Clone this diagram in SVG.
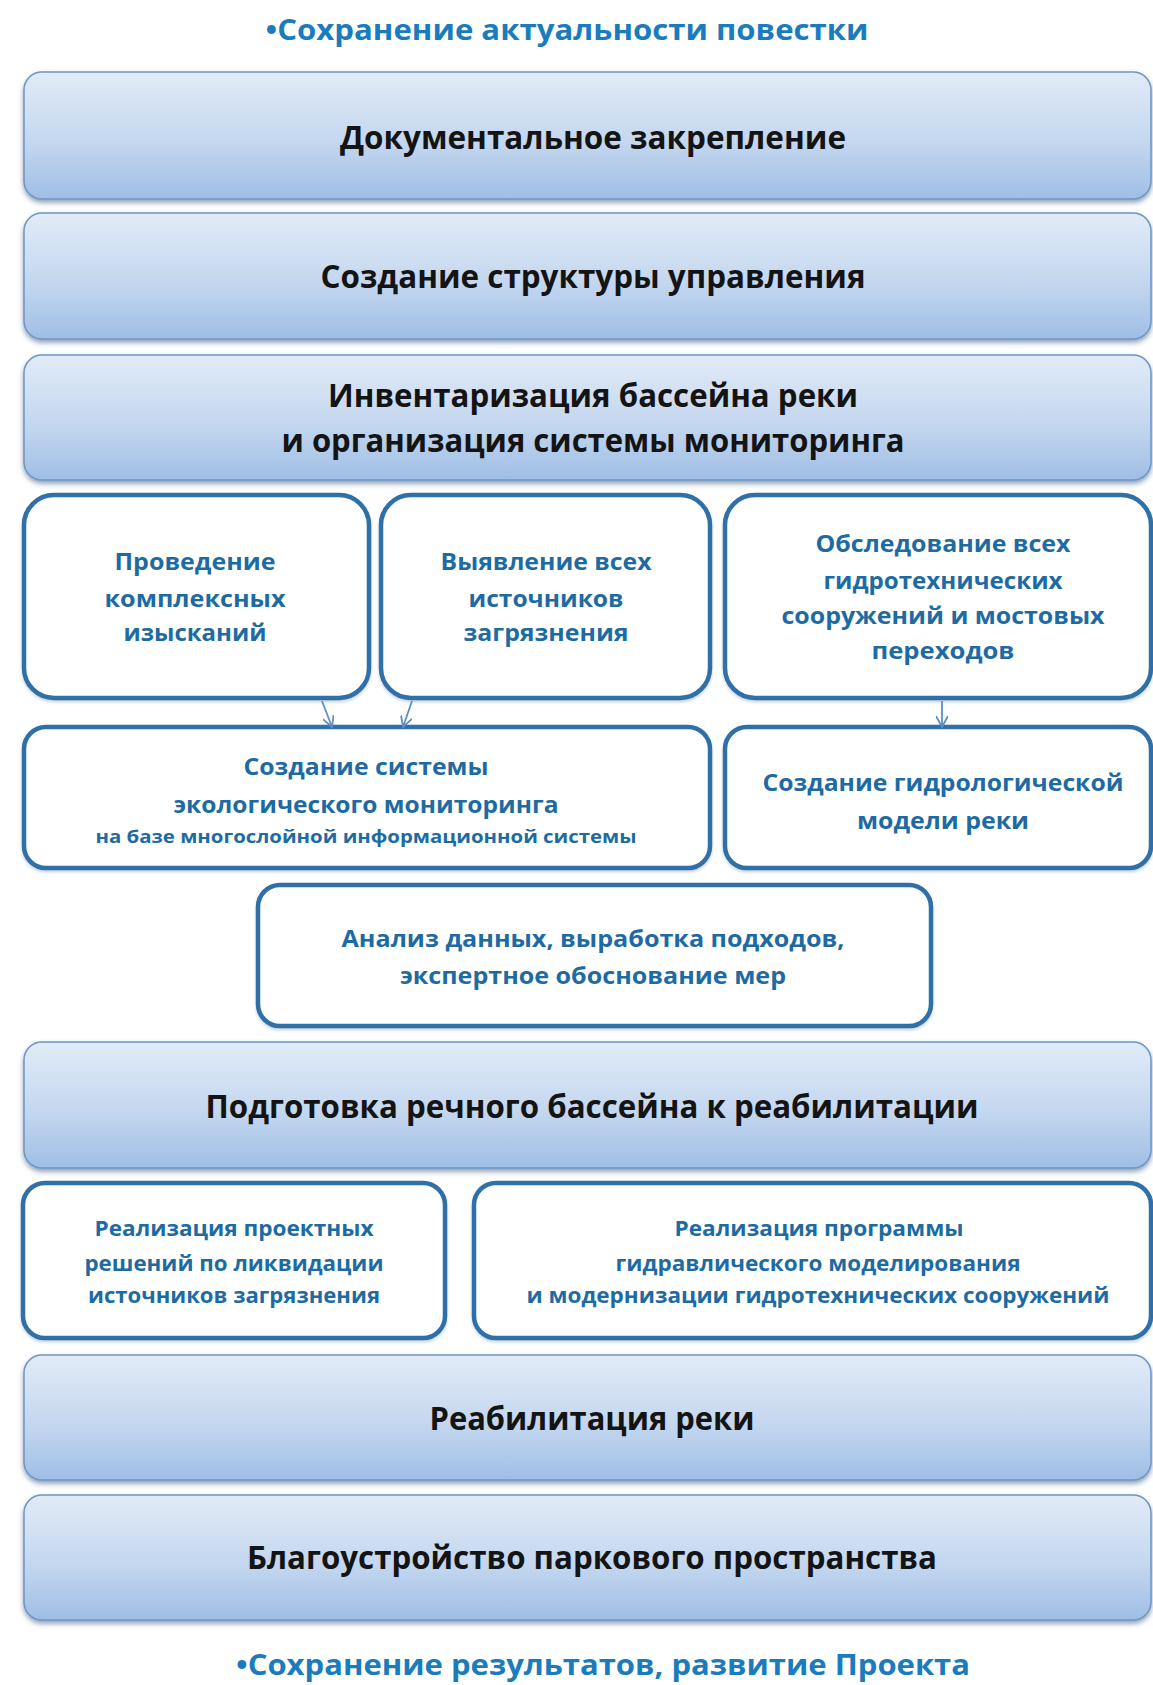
<svg xmlns="http://www.w3.org/2000/svg" width="1153" height="1685" viewBox="0 0 1153 1685">
<defs>
<linearGradient id="bg" x1="0" y1="0" x2="0" y2="1">
<stop offset="0" stop-color="#e2ebf7"/>
<stop offset="0.55" stop-color="#c4d7ef"/>
<stop offset="1" stop-color="#9fbee5"/>
</linearGradient>
<filter id="sh" x="-5%" y="-10%" width="110%" height="130%">
<feDropShadow dx="0" dy="3" stdDeviation="2.5" flood-color="#2f5784" flood-opacity="0.55"/>
</filter>
<filter id="sh2" x="-5%" y="-10%" width="110%" height="130%">
<feDropShadow dx="0" dy="2" stdDeviation="1.5" flood-color="#6f8fb0" flood-opacity="0.4"/>
</filter>
<marker id="ah" viewBox="0 0 12 12" refX="11" refY="6" markerWidth="12" markerHeight="12" markerUnits="userSpaceOnUse" orient="auto">
<path d="M0,0 L11,6 L0,12" fill="none" stroke="#5f8dbf" stroke-width="1.8"/>
</marker>
</defs>
<style>
.blue{fill:url(#bg);stroke:#6f95c2;stroke-width:1.5;filter:url(#sh)}
.white{fill:#ffffff;stroke:#2f6fa7;stroke-width:4.5;filter:url(#sh2)}
.bt{font-family:"Open Sans","Liberation Sans",sans-serif;font-weight:bold;fill:#141414;font-size:32px;text-anchor:middle}
.wt{font-family:"Open Sans","Liberation Sans",sans-serif;font-weight:bold;fill:#1d6ba2;font-size:24px;text-anchor:middle}
.tt{font-family:"Open Sans","Liberation Sans",sans-serif;font-weight:bold;fill:#1a7bbd;font-size:29px;text-anchor:middle}
.conn{fill:none;stroke:#5f8dbf;stroke-width:1.8;marker-end:url(#ah)}
</style>
<rect width="1153" height="1685" fill="#ffffff"/>

<g id="title-top"><text class="tt" x="567" y="40" textLength="603" lengthAdjust="spacingAndGlyphs">•Сохранение актуальности повестки</text></g>

<g id="n-doc"><rect class="blue" x="24" y="72" width="1127" height="127" rx="18"/>
<text class="bt" x="593" y="149" textLength="506" lengthAdjust="spacingAndGlyphs">Документальное закрепление</text></g>

<g id="n-struct"><rect class="blue" x="24" y="213" width="1127" height="126" rx="18"/>
<text class="bt" x="593" y="288" textLength="545" lengthAdjust="spacingAndGlyphs">Создание структуры управления</text></g>

<g id="n-inv"><rect class="blue" x="24" y="355" width="1127" height="125" rx="18"/>
<text class="bt" x="593" y="407" textLength="530" lengthAdjust="spacingAndGlyphs">Инвентаризация бассейна реки</text>
<text class="bt" x="593" y="452" textLength="623" lengthAdjust="spacingAndGlyphs">и организация системы мониторинга</text></g>

<g id="n-surv"><rect class="white" x="24" y="495" width="345" height="203" rx="30"/>
<text class="wt" x="195" y="570" textLength="161" lengthAdjust="spacingAndGlyphs">Проведение</text>
<text class="wt" x="195" y="607" textLength="181" lengthAdjust="spacingAndGlyphs">комплексных</text>
<text class="wt" x="195" y="641" textLength="143" lengthAdjust="spacingAndGlyphs">изысканий</text></g>

<g id="n-src"><rect class="white" x="381" y="495" width="329" height="203" rx="30"/>
<text class="wt" x="546" y="570" textLength="211" lengthAdjust="spacingAndGlyphs">Выявление всех</text>
<text class="wt" x="546" y="607" textLength="155" lengthAdjust="spacingAndGlyphs">источников</text>
<text class="wt" x="546" y="641" textLength="165" lengthAdjust="spacingAndGlyphs">загрязнения</text></g>

<g id="n-hydro"><rect class="white" x="725" y="495" width="426" height="203" rx="30"/>
<text class="wt" x="943" y="552" textLength="255" lengthAdjust="spacingAndGlyphs">Обследование всех</text>
<text class="wt" x="943" y="589" textLength="239" lengthAdjust="spacingAndGlyphs">гидротехнических</text>
<text class="wt" x="943" y="624" textLength="323" lengthAdjust="spacingAndGlyphs">сооружений и мостовых</text>
<text class="wt" x="943" y="659" textLength="143" lengthAdjust="spacingAndGlyphs">переходов</text></g>

<g id="n-eco"><rect class="white" x="24" y="727" width="686" height="141" rx="22"/>
<text class="wt" x="366" y="775" textLength="245" lengthAdjust="spacingAndGlyphs">Создание системы</text>
<text class="wt" x="366" y="813" textLength="385" lengthAdjust="spacingAndGlyphs">экологического мониторинга</text>
<text class="wt" x="366" y="843" style="font-size:18px" textLength="541" lengthAdjust="spacingAndGlyphs">на базе многослойной информационной системы</text></g>

<g id="n-model"><rect class="white" x="725" y="727" width="426" height="141" rx="22"/>
<text class="wt" x="943" y="791" textLength="361" lengthAdjust="spacingAndGlyphs">Создание гидрологической</text>
<text class="wt" x="943" y="829" textLength="172" lengthAdjust="spacingAndGlyphs">модели реки</text></g>

<g id="n-anal"><rect class="white" x="258" y="885" width="673" height="141" rx="22"/>
<text class="wt" x="593" y="947" textLength="503" lengthAdjust="spacingAndGlyphs">Анализ данных, выработка подходов,</text>
<text class="wt" x="593" y="984" textLength="386" lengthAdjust="spacingAndGlyphs">экспертное обоснование мер</text></g>

<g id="n-prep"><rect class="blue" x="24" y="1042" width="1127" height="126" rx="18"/>
<text class="bt" x="592" y="1118" textLength="773" lengthAdjust="spacingAndGlyphs">Подготовка речного бассейна к реабилитации</text></g>

<g id="n-proj"><rect class="white" x="23" y="1183" width="422" height="155" rx="22"/>
<text class="wt" x="234" y="1236" style="font-size:22px" textLength="279" lengthAdjust="spacingAndGlyphs">Реализация проектных</text>
<text class="wt" x="234" y="1271" style="font-size:22px" textLength="299" lengthAdjust="spacingAndGlyphs">решений по ликвидации</text>
<text class="wt" x="234" y="1303" style="font-size:22px" textLength="292" lengthAdjust="spacingAndGlyphs">источников загрязнения</text></g>

<g id="n-prog"><rect class="white" x="474" y="1183" width="677" height="155" rx="22"/>
<text class="wt" x="819" y="1236" style="font-size:22px" textLength="289" lengthAdjust="spacingAndGlyphs">Реализация программы</text>
<text class="wt" x="818" y="1271" style="font-size:22px" textLength="405" lengthAdjust="spacingAndGlyphs">гидравлического моделирования</text>
<text class="wt" x="818" y="1303" style="font-size:22px" textLength="583" lengthAdjust="spacingAndGlyphs">и модернизации гидротехнических сооружений</text></g>

<g id="n-rehab"><rect class="blue" x="24" y="1355" width="1127" height="125" rx="18"/>
<text class="bt" x="592" y="1430" textLength="325" lengthAdjust="spacingAndGlyphs">Реабилитация реки</text></g>

<g id="n-park"><rect class="blue" x="24" y="1495" width="1127" height="125" rx="18"/>
<text class="bt" x="592" y="1569" textLength="690" lengthAdjust="spacingAndGlyphs">Благоустройство паркового пространства</text></g>

<g id="title-bottom"><text class="tt" x="603" y="1675" textLength="734" lengthAdjust="spacingAndGlyphs">•Сохранение результатов, развитие Проекта</text></g>

<g id="connectors">
<path class="conn" d="M322,701 L332,727"/>
<path class="conn" d="M412,701 L403,727"/>
<path class="conn" d="M942,701 L942,727"/>
</g>
</svg>
